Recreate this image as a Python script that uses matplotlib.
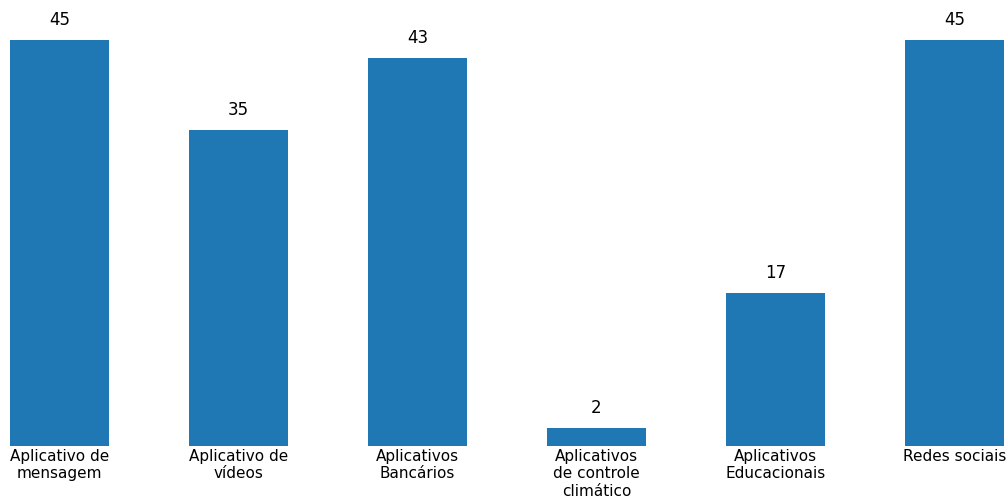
import matplotlib
matplotlib.use('Agg')
import matplotlib.pyplot as plt

# Data
categorias = ['Aplicativo de\nmensagem', 'Aplicativo de\nvídeos', 'Aplicativos\nBancários',
              'Aplicativos\nde controle\nclimático', 'Aplicativos\nEducacionais', 'Redes sociais']
valores = [45, 35, 43, 2, 17, 45]

fig = plt.figure(figsize=(10.06, 4.99), dpi=100)
ax = fig.add_axes([10 / 1006, 53 / 499, 994 / 1006, 406 / 499])

x = range(len(categorias))
bars = ax.bar(x, valores, width=0.55, color='#1f77b4')

for b, v in zip(bars, valores):
    ax.annotate(f'{v}', (b.get_x() + b.get_width() / 2, v), xytext=(0, 8),
                textcoords='offset points', ha='center', va='bottom', fontsize=12)

ax.set_xlim(-0.275, len(categorias) - 1 + 0.275)
ax.set_ylim(0, 45)
ax.set_xticks(list(x))
ax.set_xticklabels(categorias, fontsize=11)
ax.tick_params(axis='x', length=0, pad=2)
ax.set_yticks([])
for s in ax.spines.values():
    s.set_visible(False)

fig.savefig('out.png', dpi=100)
